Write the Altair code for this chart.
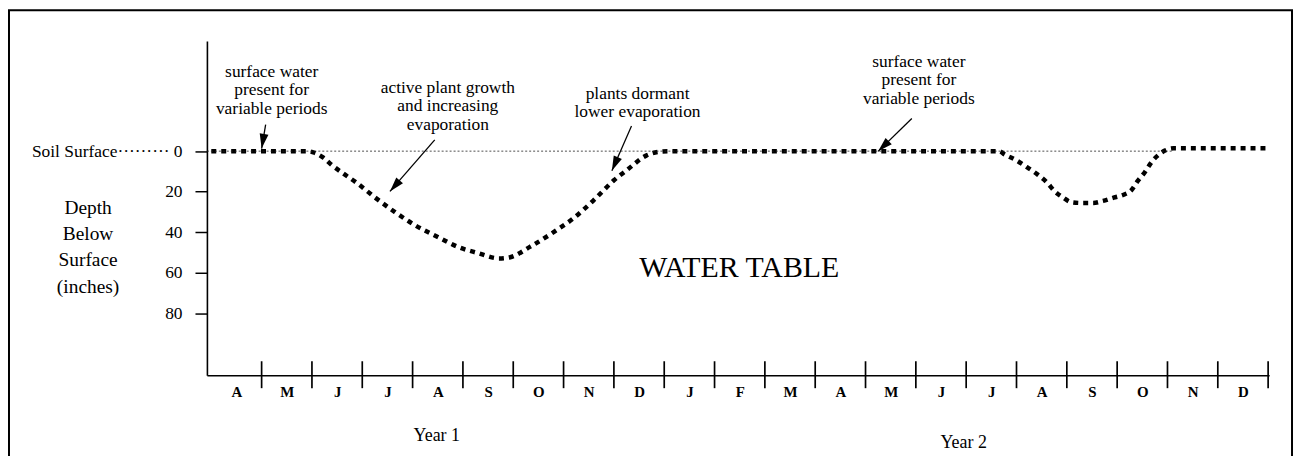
import altair as alt
import pandas as pd
import numpy as np

# ---------------- data ----------------
months = ["A", "M", "J", "J", "A", "S", "O", "N", "D", "J", "F",
          "M", "A", "M", "J", "J", "A", "S", "O", "N", "D"]
month_bounds = list(range(1, 22))
depth_ticks = [0, 20, 40, 60, 80]

curve_month = [0.0, 1.0, 1.9, 2.05, 2.22, 2.4, 2.62, 2.88, 3.27, 3.65, 4.04,
               4.5, 4.9, 5.29, 5.72, 5.94, 6.33, 6.81, 7.2, 7.6, 8.0, 8.25,
               8.65, 8.9, 9.1, 11.0, 13.0, 15.0, 15.65, 15.77, 15.98, 16.2, 16.4,
               16.61, 16.75, 16.93, 17.09, 17.3, 17.52, 17.72, 17.93, 18.14,
               18.28, 18.41, 18.55, 18.69, 18.83, 18.95, 19.12, 20.0, 21.0]
curve_depth = [0.0, 0.0, 0.0, 0.8, 3.1, 7.0, 11.0, 15.5, 23.2, 30.1, 36.5,
               42.4, 47.3, 50.3, 53.0, 52.4, 47.3, 39.9, 33.1, 24.2, 14.4, 9.5,
               2.1, 0.3, 0.0, 0.0, 0.0, 0.0, 0.0, 1.7, 4.3, 7.8, 11.2,
               15.6, 19.6, 23.0, 25.2, 25.6, 25.6, 24.6, 23.0, 21.4,
               19.4, 14.7, 10.4, 5.2, 1.7, -0.3, -1.4, -1.4, -1.4]

ann_text = ["surface water\npresent for\nvariable periods",
            "active plant growth\nand increasing\nevaporation",
            "plants dormant\nlower evaporation",
            "surface water\npresent for\nvariable periods"]
ann_month = [1.20, 4.70, 8.47, 14.06]
ann_depth = [-39.2, -31.3, -28.3, -44.1]

arrow_tail_month = [1.08, 4.44, 8.35, 13.92]
arrow_tail_depth = [-13.1, -5.6, -12.4, -16.1]
arrow_head_month = [1.00, 3.55, 7.96, 13.25]
arrow_head_depth = [-1.3, 19.9, 9.7, 0.1]

year_labels = ["Year 1", "Year 2"]
year_month = [4.48, 14.95]
year_depth = [140.7, 144.0]

big_label = ["WATER TABLE"]
big_month = [10.49]
big_depth = [57.7]

depth_title = ["Depth", "Below", "Surface", "(inches)"]

# ---------------- layout ----------------
W, H = 1068, 336
PX_PER_MONTH = W / (21.02 + 0.087)
PX_PER_DEPTH = H / (110.7 + 54.4)
FONT = "Liberation Serif"

xs = alt.Scale(domain=[-0.087, 21.02], nice=False, zero=False)
ys = alt.Scale(domain=[-54.4, 110.7], reverse=True, nice=False, zero=False)

curve_df = pd.DataFrame({"m": curve_month, "d": curve_depth})
ann_df = pd.DataFrame({"m": ann_month, "d": ann_depth, "t": ann_text})
arr_df = pd.DataFrame({"m": arrow_tail_month, "d": arrow_tail_depth,
                       "m2": arrow_head_month, "d2": arrow_head_depth})
dx = (np.array(arrow_head_month) - np.array(arrow_tail_month)) * PX_PER_MONTH
dy = (np.array(arrow_head_depth) - np.array(arrow_tail_depth)) * PX_PER_DEPTH
arr_df["ang"] = np.degrees(np.arctan2(dx, -dy)) % 360
head_df = pd.DataFrame({"m": arrow_head_month, "d": arrow_head_depth,
                        "ang": arr_df["ang"]})
tick_df = pd.DataFrame({"m": month_bounds})
tick_df["d"] = 103.8
tick_df["d2"] = 117.1
year_df = pd.DataFrame({"m": year_month, "d": year_depth, "t": year_labels})
big_df = pd.DataFrame({"m": big_month, "d": big_depth, "t": big_label})
zero_df = pd.DataFrame({"m": [-0.087], "m2": [19.12], "d": [0.0]})

month_js = "[" + ",".join("'%s'" % s for s in months) + "]"

x_axis = alt.Axis(values=[i + 0.5 for i in range(len(months))],
                  labelExpr=month_js + "[floor(datum.value)]",
                  ticks=False, grid=False, title=None,
                  domainColor="black", domainWidth=1.6,
                  labelFont=FONT, labelFontWeight="bold", labelFontSize=15,
                  labelPadding=9, labelColor="black")
y_axis = alt.Axis(values=depth_ticks,
                  labelExpr="datum.value == 0 ? 'Soil Surface" + "\u00b7" * 9 + " 0' : datum.label",
                  tickSize=12, tickColor="black", tickWidth=1.5,
                  domainColor="black", domainWidth=1.6, grid=False,
                  labelFont=FONT, labelFontSize=17.5, labelPadding=13,
                  labelColor="black",
                  title=depth_title, titleAngle=0, titleX=-120, titleY=167,
                  titleAlign="center", titleBaseline="middle",
                  titleFont=FONT, titleFontSize=19.5, titleFontWeight="normal",
                  titleLineHeight=26.5, titleColor="black")

X = alt.X("m:Q", scale=xs)
Y = alt.Y("d:Q", scale=ys)

curve = alt.Chart(curve_df).mark_line(
    color="black", strokeWidth=4.5, strokeDash=[5, 5], strokeCap="butt",
    interpolate="monotone"
).encode(
    x=alt.X("m:Q", scale=xs, axis=x_axis),
    y=alt.Y("d:Q", scale=ys, axis=y_axis),
)

zero_line = alt.Chart(zero_df).mark_rule(
    color="#222", strokeWidth=0.8, strokeDash=[2, 2]
).encode(x=X, x2="m2:Q", y=Y)

ticks = alt.Chart(tick_df).mark_rule(color="black", strokeWidth=1.7).encode(
    x=X, y=Y, y2="d2:Q")

arrows = alt.Chart(arr_df).mark_rule(color="black", strokeWidth=1.3).encode(
    x=X, x2="m2:Q", y=Y, y2="d2:Q")

heads = alt.Chart(head_df).mark_point(
    shape="M0,0L-0.6,2L0.6,2Z", filled=True, color="black", opacity=1,
    size=220, strokeWidth=0
).encode(x=X, y=Y, angle=alt.Angle("ang:Q", scale=None))

anns = alt.Chart(ann_df).mark_text(
    font=FONT, fontSize=17.5, lineHeight=18.5, lineBreak="\n",
    align="center", baseline="middle", color="black"
).encode(x=X, y=Y, text="t:N")

years = alt.Chart(year_df).mark_text(
    font=FONT, fontSize=18, align="center", baseline="middle", color="black"
).encode(x=X, y=Y, text="t:N")

big = alt.Chart(big_df).mark_text(
    font=FONT, fontSize=30, align="center", baseline="middle", color="black"
).encode(x=X, y=Y, text="t:N")

frame = alt.Chart(pd.DataFrame({"a": [0]})).mark_rect(
    fillOpacity=0, stroke="black", strokeWidth=2
).encode(x=alt.value(-199), x2=alt.value(1091),
         y=alt.value(-31), y2=alt.value(520))

chart = alt.layer(
    curve, frame, zero_line, ticks, arrows, heads, anns, years, big
).properties(
    width=W, height=H,
    autosize=alt.AutoSizeParams(type="none"),
    padding={"left": 200, "top": 32, "right": 25, "bottom": 80},
    background="white",
).configure_view(stroke=None)

chart.save("out.html", embed_options={"renderer": "svg", "actions": False})
